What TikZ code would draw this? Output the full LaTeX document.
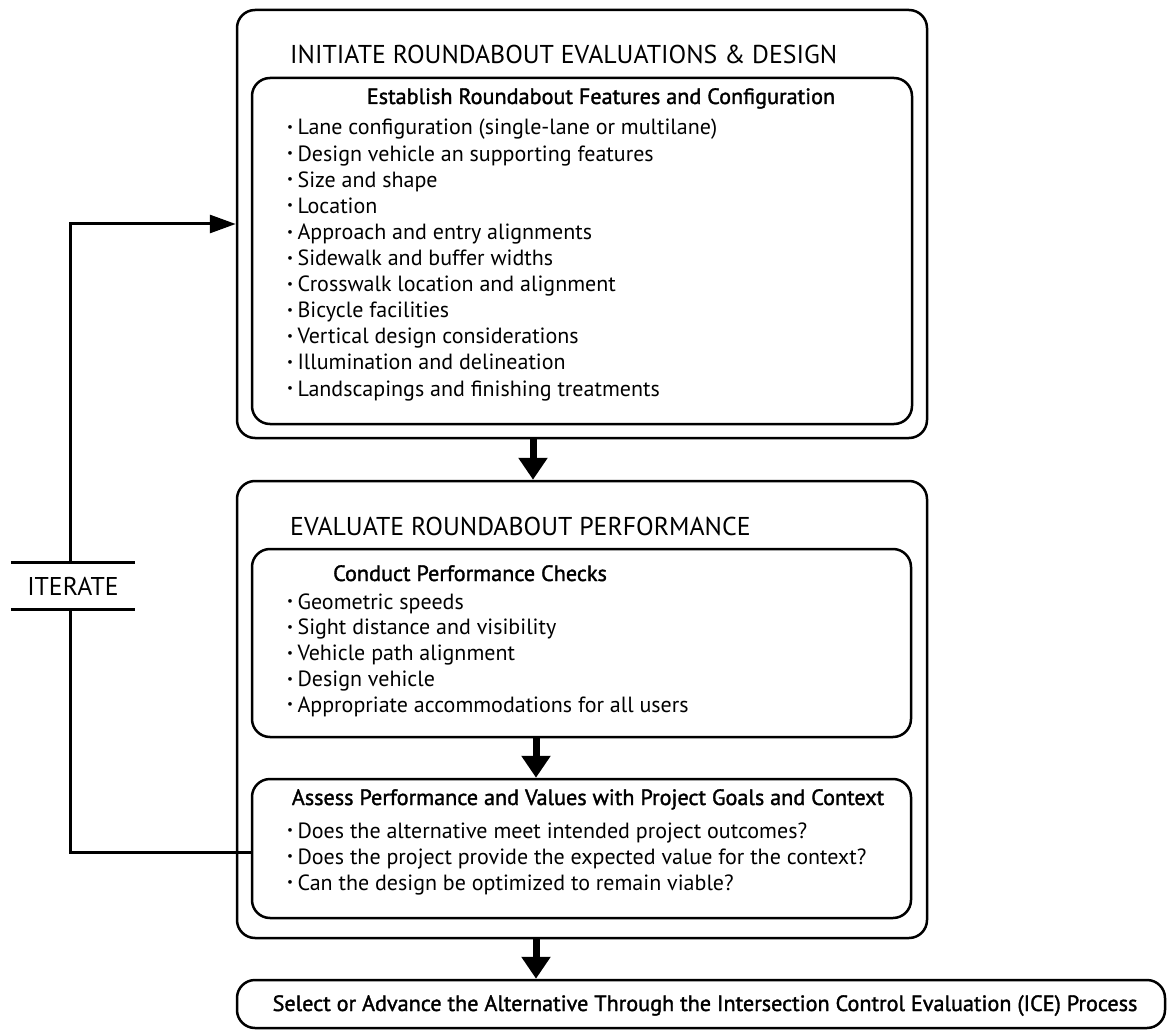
\documentclass[tikz,border=0pt]{standalone}
\usepackage{fontspec}
\setmainfont{PT Sans}
\newfontfamily\headfont[FakeBold=1.5]{PT Sans}
\usetikzlibrary{arrows.meta}
\newcommand{\bul}{\raisebox{0.3ex}{\scalebox{0.6}{\textbullet}}\hspace{0.2em}}
\tikzset{
  frame/.style={draw, line width=2.5pt, rounded corners=18pt, inner sep=0pt},
  title/.style={anchor=base west, inner sep=0pt, font=\fontsize{25.8}{30}\selectfont},
  heading/.style={anchor=base, inner sep=0pt, font=\headfont\fontsize{22.2}{26}\selectfont},
  item/.style={anchor=base west, inner sep=0pt, font=\fontsize{22}{26}\selectfont},
  bigarrow/.style={line width=7pt, -{Triangle[width=28pt,length=22pt]}},
  conn/.style={line width=3pt},
}
\begin{document}
\begin{tikzpicture}[x=1pt,y=-1pt]
\useasboundingbox (0,0) rectangle (1171,1030);
% boxes
\node[frame, minimum width=690pt, minimum height=428pt] (o1) at (582,224) {};
\node[frame, minimum width=660pt, minimum height=346pt] (b1) at (582,251) {};
\node[frame, minimum width=690pt, minimum height=457pt] (o2) at (582,709.5) {};
\node[frame, minimum width=659pt, minimum height=188pt] (b2a) at (581.5,643) {};
\node[frame, minimum width=659pt, minimum height=139pt] (b2b) at (581.5,848.5) {};
\node[frame, minimum width=928pt, minimum height=48pt] (bot) at (701,1004) {};
% titles
\node[title] (t1) at (290,64) {INITIATE ROUNDABOUT EVALUATIONS \& DESIGN};
\node[title] (t2) at (290,535) {EVALUATE ROUNDABOUT PERFORMANCE};
% headings
\node[heading] (h1) at (601,104) {Establish Roundabout Features and Configuration};
\node[heading] (h2) at (470,581) {Conduct Performance Checks};
\node[heading] (h3) at (588,805) {Assess Performance and Values with Project Goals and Context};
\node[heading] (h4) at (705,1011) {Select or Advance the Alternative Through the Intersection Control Evaluation (ICE) Process};
% list 1
\foreach \t [count=\i from 0] in {
  Lane configuration (single-lane or multilane),
  Design vehicle an supporting features,
  Size and shape,
  Location,
  Approach and entry alignments,
  Sidewalk and buffer widths,
  Crosswalk location and alignment,
  Bicycle facilities,
  Vertical design considerations,
  Illumination and delineation,
  Landscapings and finishing treatments}
  \node[item] (la\i) at (287,135+26.1*\i) {\bul\t};
% list 2
\foreach \t [count=\i from 0] in {
  Geometric speeds,
  Sight distance and visibility,
  Vehicle path alignment,
  Design vehicle,
  Appropriate accommodations for all users}
  \node[item] (lb\i) at (287,609+25.8*\i) {\bul\t};
% list 3
\foreach \t [count=\i from 0] in {
  Does the alternative meet intended project outcomes?,
  Does the project provide the expected value for the context?,
  Can the design be optimized to remain viable?}
  \node[item] (lc\i) at (287,838+26*\i) {\bul\t};
% big arrows
\draw[bigarrow] ([xshift=-49pt]o1.south) -- ([xshift=-49pt]o1.south |- o2.north);
\draw[bigarrow] ([xshift=-45.5pt]b2a.south) -- ([xshift=-45.5pt]b2a.south |- b2b.north);
\draw[bigarrow] ([xshift=-46pt]o2.south) -- ([xshift=-46pt]o2.south |- bot.north);
% iterate
\node[inner sep=0pt, minimum width=124pt, minimum height=46pt, font=\fontsize{25.7}{30}\selectfont] (it) at (73,586) {ITERATE};
\draw[conn] (it.north west) -- (it.north east);
\draw[conn] (it.south west) -- (it.south east);
\coordinate (c1) at (70,852);
\draw[conn] (b2b.west |- c1) -- (c1) -- (c1 |- it.south);
\draw[conn, -{Triangle[width=18pt,length=26pt]}] (c1 |- it.north) |- (o1.west);
\end{tikzpicture}
\end{document}
